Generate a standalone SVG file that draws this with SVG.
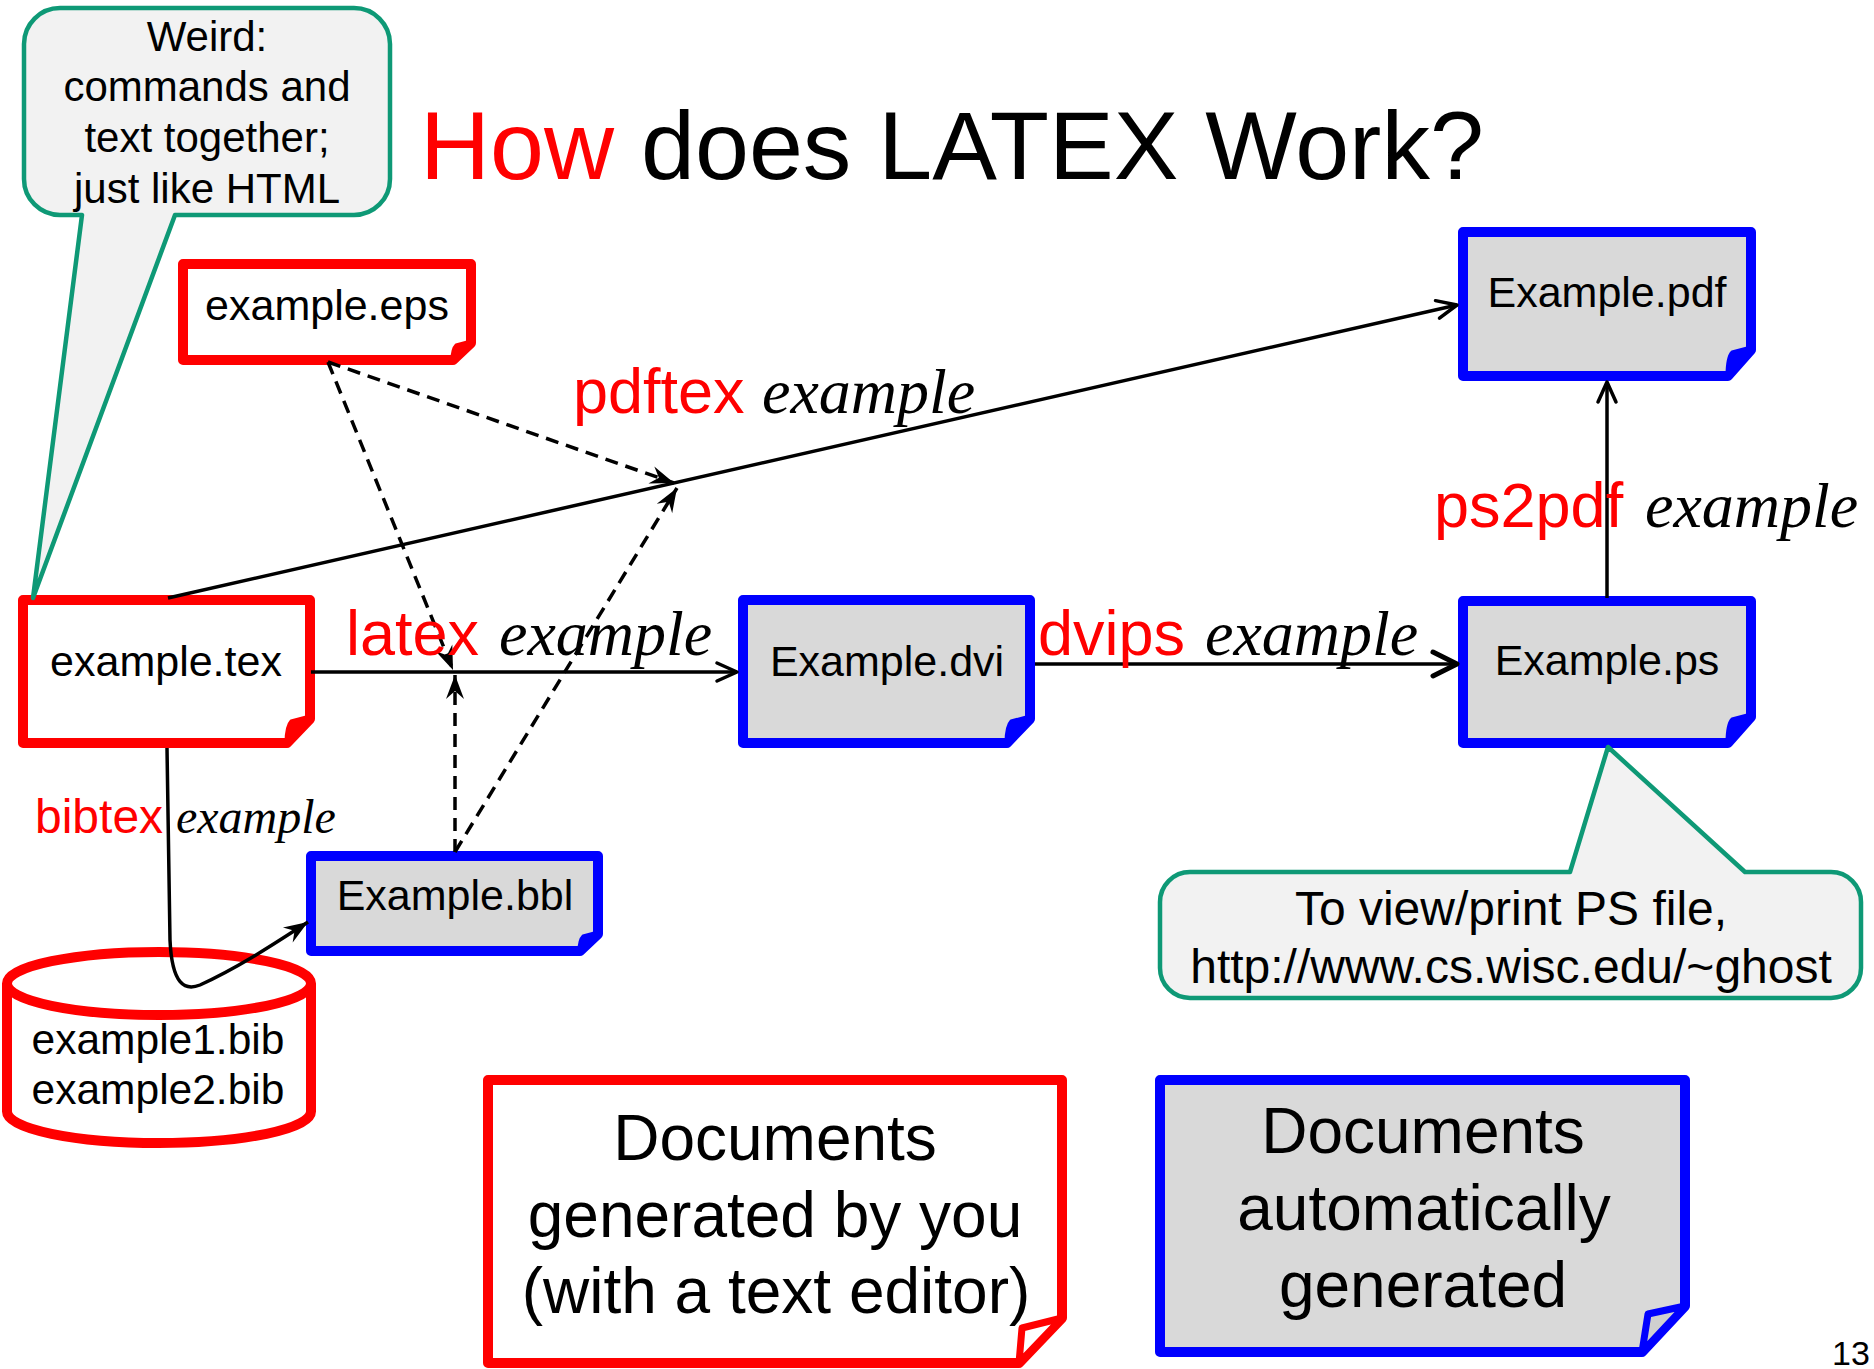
<svg xmlns="http://www.w3.org/2000/svg" width="1874" height="1369" viewBox="0 0 1874 1369">
  <style>
    .sans { font-family: "Liberation Sans", Arial, sans-serif; }
    .serif-it { font-family: "Liberation Serif", "Times New Roman", serif; font-style: italic; }
    .mine { fill: #ffffff; stroke: #ff0000; stroke-width: 10; stroke-linejoin: round; }
    .mine-flap { fill: #ff0000; stroke: #ff0000; stroke-width: 3; stroke-linejoin: round; }
    .auto { fill: #d9d9d9; stroke: #0000ff; stroke-width: 10; stroke-linejoin: round; }
    .auto-flap { fill: #0000ff; stroke: #0000ff; stroke-width: 3; stroke-linejoin: round; }
    .callout { fill: #f2f2f2; stroke: #0e9976; stroke-width: 4.5; stroke-linejoin: round; }
    .label { font-size: 43px; fill: #000; }
    .cmd { font-size: 63px; fill: #ff0000; }
    .arg { font-size: 64px; fill: #000; }
    .solid { fill: none; stroke: #000; stroke-width: 3.5; }
    .dash { fill: none; stroke: #000; stroke-width: 3.5; stroke-dasharray: 13 8; }
  </style>
  <defs>
    <marker id="open" markerUnits="userSpaceOnUse" markerWidth="40" markerHeight="40" viewBox="-30 -20 40 40" refX="0" refY="0" orient="auto">
      <path d="M-20,-9 L0,0 L-20,9" fill="none" stroke="#000" stroke-width="3.5" stroke-linecap="round" stroke-linejoin="round"/>
    </marker>
    <marker id="openBig" markerUnits="userSpaceOnUse" markerWidth="40" markerHeight="40" viewBox="-30 -20 40 40" refX="0" refY="0" orient="auto">
      <path d="M-24,-12 L0,0 L-24,12" fill="none" stroke="#000" stroke-width="5" stroke-linecap="round" stroke-linejoin="round"/>
    </marker>
    <marker id="stealth" markerUnits="userSpaceOnUse" markerWidth="50" markerHeight="50" viewBox="-35 -25 50 50" refX="0" refY="0" orient="auto">
      <path d="M0,0 L-24,-9 L-16,0 L-24,9 Z" fill="#000"/>
    </marker>
  </defs>

  <rect width="1874" height="1369" fill="#ffffff"/>

  <!-- title -->
  <text id="title" class="sans" x="420" y="179" font-size="97" fill="#000"><tspan fill="#ff0000">How</tspan> does LATEX Work?</text>

  <!-- files written by hand -->
  <g id="example-eps">
    <path class="mine" d="M183,264 H471 V343 L453,360 H183 Z"/>
    <path class="mine-flap" d="M471,341 L456,345 Q452,349 452,360 L471,343 Z"/>
    <text class="sans label" x="327" y="320" text-anchor="middle">example.eps</text>
  </g>
  <g id="example-tex">
    <path class="mine" d="M23,600 H310 V719 L287,743 H23 Z"/>
    <path class="mine-flap" d="M310,716 L291,721 Q286,726 286,743 L310,719 Z"/>
    <text class="sans label" x="166" y="676" text-anchor="middle">example.tex</text>
  </g>
  <g id="bib-files">
    <path d="M7,983.5 V1111.5 A152,31.5 0 0 0 311,1111.5 V983.5" fill="#fff" stroke="#ff0000" stroke-width="10"/>
    <ellipse cx="159" cy="983.5" rx="152" ry="31.5" fill="#fff" stroke="#ff0000" stroke-width="10"/>
    <text class="sans" font-size="42.5" x="158" y="1054" text-anchor="middle">example1.bib</text>
    <text class="sans" font-size="42.5" x="158" y="1104" text-anchor="middle">example2.bib</text>
  </g>

  <!-- generated files -->
  <g id="example-dvi">
    <path class="auto" d="M743,600 H1030 V719 L1007,743 H743 Z"/>
    <path class="auto-flap" d="M1030,716 L1011,721 Q1006,726 1006,743 L1030,719 Z"/>
    <text class="sans label" x="887" y="676" text-anchor="middle">Example.dvi</text>
  </g>
  <g id="example-ps">
    <path class="auto" d="M1463,601 H1751 V717 L1728,743 H1463 Z"/>
    <path class="auto-flap" d="M1751,714 L1732,719 Q1727,724 1727,743 L1751,717 Z"/>
    <text class="sans label" x="1607" y="675" text-anchor="middle">Example.ps</text>
  </g>
  <g id="example-pdf">
    <path class="auto" d="M1463,232 H1751 V350 L1728,376 H1463 Z"/>
    <path class="auto-flap" d="M1751,347 L1732,352 Q1727,357 1727,376 L1751,350 Z"/>
    <text class="sans label" x="1607" y="307" text-anchor="middle">Example.pdf</text>
  </g>
  <g id="example-bbl">
    <path class="auto" d="M311,856 H598 V934 L580,951 H311 Z"/>
    <path class="auto-flap" d="M598,932 L583,936 Q579,940 579,951 L598,934 Z"/>
    <text class="sans label" x="455" y="910" text-anchor="middle">Example.bbl</text>
  </g>

  <!-- legend -->
  <g id="legend-mine">
    <path class="mine" d="M488,1080 H1062 V1318 L1019,1363 H488 Z"/>
    <path d="M1062,1318 L1022,1328 L1019,1363 Z" fill="#fff" stroke="#ff0000" stroke-width="7" stroke-linejoin="round"/>
    <text class="sans" font-size="64" x="775" y="1160" text-anchor="middle">Documents</text>
    <text class="sans" font-size="64" x="775" y="1237" text-anchor="middle">generated by you</text>
    <text class="sans" font-size="64" x="776" y="1313" text-anchor="middle">(with a text editor)</text>
  </g>
  <g id="legend-auto">
    <path class="auto" d="M1160,1080 H1685 V1306 L1642,1352 H1160 Z"/>
    <path d="M1685,1306 L1648,1314 L1642,1352 Z" fill="#cfcfcf" stroke="#0000ff" stroke-width="7" stroke-linejoin="round"/>
    <text class="sans" font-size="64" x="1423" y="1153" text-anchor="middle">Documents</text>
    <text class="sans" font-size="64" x="1424" y="1230" text-anchor="middle">automatically</text>
    <text class="sans" font-size="64" x="1423" y="1307" text-anchor="middle">generated</text>
  </g>

  <!-- commands and dependencies -->
  <g id="connectors">
    <line class="solid" x1="311" y1="672" x2="737" y2="672" marker-end="url(#open)"/>
    <line class="solid" x1="1035" y1="664" x2="1457" y2="664" stroke-width="5" marker-end="url(#openBig)"/>
    <line class="solid" x1="168" y1="598" x2="1457" y2="305" stroke-width="4" marker-end="url(#open)"/>
    <line class="solid" x1="1607" y1="598" x2="1607" y2="382" marker-end="url(#open)"/>
    <path class="solid" d="M167,748 L170,940 C172,985 185,991 200,985 C240,967 280,940 308,922" stroke-width="2.5" marker-end="url(#stealth)"/>
    <line class="dash" x1="328" y1="362" x2="453" y2="670" marker-end="url(#stealth)"/>
    <line class="dash" x1="328" y1="362" x2="674" y2="483" marker-end="url(#stealth)"/>
    <line class="dash" x1="455" y1="852" x2="455" y2="675" marker-end="url(#stealth)"/>
    <line class="dash" x1="455" y1="852" x2="677" y2="488" marker-end="url(#stealth)"/>
  </g>

  <!-- command labels -->
  <g id="labels">
    <text class="sans cmd" x="573" y="413">pdftex</text>
    <text class="serif-it arg" x="762" y="413">example</text>
    <text class="sans cmd" x="346" y="655">latex</text>
    <text class="serif-it arg" x="499" y="655">example</text>
    <text class="sans cmd" x="1038" y="655">dvips</text>
    <text class="serif-it arg" x="1205" y="655">example</text>
    <text class="sans cmd" x="1434" y="527">ps2pdf</text>
    <text class="serif-it arg" x="1645" y="527">example</text>
    <text class="sans" font-size="48" fill="#ff0000" x="35" y="833">bibtex</text>
    <text class="serif-it" font-size="48" fill="#000" x="176" y="833">example</text>
  </g>

  <!-- remarks -->
  <g id="callout-weird">
    <path class="callout" d="M60,8 H354 A36,36 0 0 1 390,44 V179 A36,36 0 0 1 354,215 H175 L33,598 L82,215 H60 A36,36 0 0 1 24,179 V44 A36,36 0 0 1 60,8 Z"/>
    <text class="sans" font-size="42" x="207" y="51" text-anchor="middle">Weird:</text>
    <text class="sans" font-size="42" x="207" y="101" text-anchor="middle">commands and</text>
    <text class="sans" font-size="42" x="207" y="152" text-anchor="middle">text together;</text>
    <text class="sans" font-size="42" x="207" y="203" text-anchor="middle">just like HTML</text>
  </g>
  <g id="callout-ghost">
    <path class="callout" d="M1190,872 H1570 L1608,747 L1745,872 H1831 A30,30 0 0 1 1861,902 V968 A30,30 0 0 1 1831,998 H1190 A30,30 0 0 1 1160,968 V902 A30,30 0 0 1 1190,872 Z"/>
    <text class="sans" font-size="48" x="1511" y="925" text-anchor="middle">To view/print PS file,</text>
    <text class="sans" font-size="48" x="1511" y="983" text-anchor="middle">http://www.cs.wisc.edu/~ghost</text>
  </g>

  <text id="page-number" class="sans" font-size="34" x="1832" y="1365">13</text>
</svg>
